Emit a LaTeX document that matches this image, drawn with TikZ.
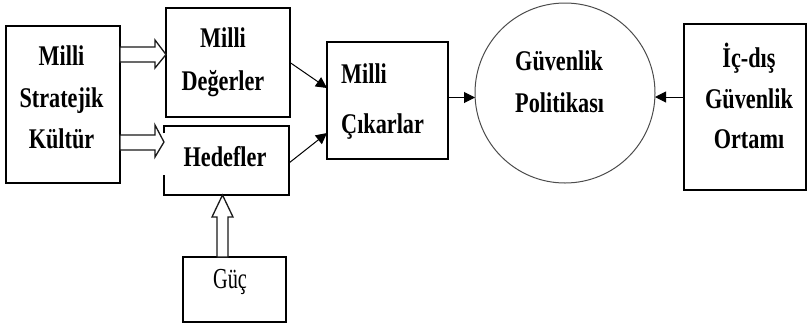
\documentclass[tikz,border=0pt]{standalone}
\usepackage{fontspec}
\setmainfont{Liberation Serif}[FakeStretch=0.78]
\newfontfamily\gucfont{Liberation Serif}[FakeStretch=0.7]
\usetikzlibrary{arrows.meta}
\begin{document}
\begin{tikzpicture}[x=1pt,y=-1pt,
  box/.style={draw=none,minimum width=#1,inner sep=0pt,outer sep=0pt},
  frame/.style={draw=black,line width=1.6pt},
  lbl/.style={inner sep=0pt,font=\bfseries\fontsize{28.5}{#1}\selectfont},
  conn/.style={draw=black,line width=1pt,-{Triangle[length=11pt,width=11pt]}},
  hollow/.style={draw=black!90,line width=1.3pt,fill=white,line join=miter}]
\useasboundingbox (0,0) rectangle (808,325);
% boxes
\node[box=114pt,minimum height=157pt,frame] (K) at (63,104.5) {};
\node[box=124pt,minimum height=109pt,frame] (D) at (228,62.5) {};
\node[box=125pt,minimum height=69pt] (H) at (226.5,160.5) {};
\draw[frame] (H.west|-0,133) -- (H.north west) -- (H.north east) -- (H.south east) -- (H.south west) -- (H.west|-0,175);
\node[box=103pt,minimum height=65pt,frame] (G) at (234.5,289.5) {};
\node[box=121pt,minimum height=117pt,frame] (C) at (387.5,100.5) {};
\node[circle,minimum size=180pt,inner sep=0pt,outer sep=0pt,draw=black!70,line width=1pt] (P) at (565,93) {};
\node[box=122pt,minimum height=166pt,draw=black,line width=1.4pt] (I) at (745,107) {};
% texts
\node[lbl=41.5pt,align=center,anchor=north] (tK) at (61.5,46) {Milli\\Stratejik\\Kültür};
\node[lbl=43pt,align=center,anchor=north] (tD) at (223,28) {Milli\\Değerler};
\node[lbl=30pt,anchor=base] (tH) at (225,166.5) {Hedefler};
\node[inner sep=0pt,font=\gucfont\fontsize{29}{30}\selectfont,anchor=base] (tG) at (230,288) {Güç};
\node[lbl=50pt,align=left,anchor=north west] (tC) at (341,64) {Milli\\Çıkarlar};
\node[lbl=42pt,align=left,anchor=north west] (tP) at (515,51) {Güvenlik\\Politikası};
\node[lbl=40.5pt,align=center,anchor=north] (tI) at (749,43) {İç-dış\\Güvenlik\\Ortamı};
% hollow arrows
\draw[hollow] (K.east|-0,47) -- (155,47) -- (155,40) -- (D.west|-0,54.5) -- (155,68) -- (155,62) -- (K.east|-0,62) -- cycle;
\draw[hollow] (K.east|-0,135) -- (155,135) -- (155,125) -- (H.west|-0,142) -- (155,157) -- (155,150) -- (K.east|-0,150) -- cycle;
\draw[hollow] (217,0|-G.north) -- (217,217) -- (212,217) -- (222.5,0|-H.south) -- (233,217) -- (228,217) -- (228,0|-G.north) -- cycle;
% connectors
\draw[conn] (D.east) -- ([yshift=12.5pt]C.west);
\draw[conn] ([yshift=-2.5pt]H.east) -- ([yshift=-32.5pt]C.west);
\draw[conn] ([yshift=3pt]C.east) -- ([yshift=3pt]C.east -| P.west);
\draw[conn] ([yshift=10pt]I.west) -- ([yshift=10pt]I.west -| P.east);
\end{tikzpicture}
\end{document}
